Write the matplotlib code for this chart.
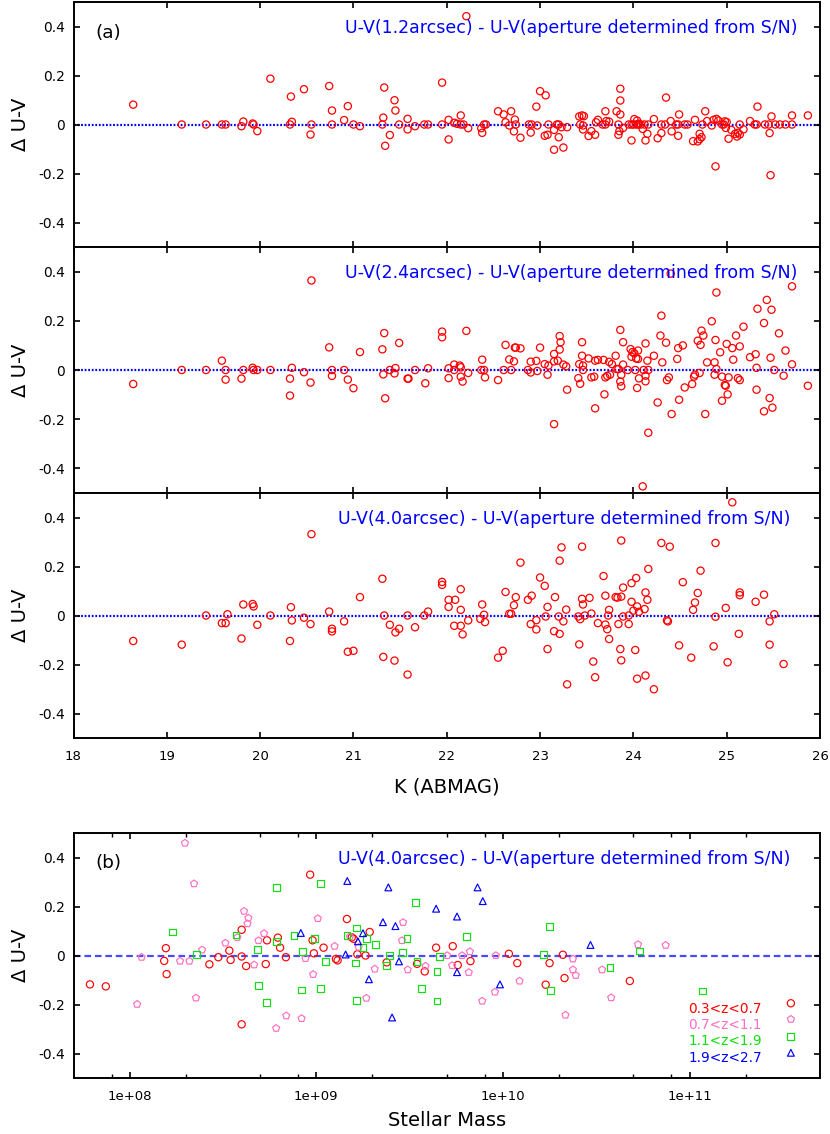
import matplotlib
matplotlib.use("Agg")
import matplotlib.pyplot as plt
import numpy as np
from matplotlib.ticker import FixedLocator, NullFormatter

plt.rcParams['font.family'] = ['DejaVu Sans']
plt.rcParams['axes.unicode_minus'] = False

# ---- panel (a), 1.2 arcsec ----
k_12 = [18.64, 19.16, 19.42, 19.59, 19.63, 19.80, 19.82, 19.92, 19.93, 19.97,
        20.11, 20.32, 20.33, 20.34, 20.47, 20.54, 20.55, 20.74, 20.77, 20.77,
        20.90, 20.94, 21.00, 21.07, 21.31, 21.32, 21.33, 21.34, 21.39, 21.44,
        21.45, 21.49, 21.58, 21.58, 21.66, 21.76, 21.80, 21.95, 21.95, 22.02,
        22.02, 22.08, 22.11, 22.15, 22.15, 22.18, 22.21, 22.23, 22.37, 22.38,
        22.40, 22.42, 22.55, 22.61, 22.63, 22.67, 22.69, 22.73, 22.72, 22.74,
        22.79, 22.88, 22.91, 22.90, 22.96, 22.97, 23.00, 23.06, 23.05, 23.08,
        23.09, 23.15, 23.15, 23.18, 23.20, 23.20, 23.23, 23.25, 23.29, 23.42,
        23.45, 23.47, 23.43, 23.46, 23.46, 23.52, 23.55, 23.59, 23.60, 23.62,
        23.67, 23.70, 23.70, 23.71, 23.74, 23.82, 23.84, 23.84, 23.85, 23.86,
        23.86, 23.86, 23.89, 23.95, 23.98, 24.00, 24.03, 24.05, 24.08, 24.12,
        24.16, 23.98, 24.01, 24.04, 24.06, 24.10, 24.13, 24.15, 24.22, 24.26,
        24.30, 24.30, 24.34, 24.35, 24.40, 24.41, 24.46, 24.48, 24.48, 24.49,
        24.55, 24.58, 24.64, 24.69, 24.71, 24.73, 24.71, 24.66, 24.74, 24.77,
        24.79, 24.84, 24.86, 24.89, 24.91, 24.88, 24.95, 24.97, 24.98, 25.00,
        24.99, 25.02, 25.05, 25.09, 25.11, 25.12, 25.14, 25.18, 25.14, 25.25,
        25.30, 25.32, 25.33, 25.41, 25.45, 25.46, 25.47, 25.48, 25.52, 25.57,
        25.63, 25.70, 25.70, 25.87]
d_12 = [0.081, 0, 0, 0, 0, -0.007, 0.012, 0.004, 0, -0.027,
        0.187, 0, 0.114, 0.011, 0.144, -0.041, 0, 0.157, 0.057, 0,
        0.018, 0.075, 0, -0.007, 0, 0.028, 0.151, -0.087, -0.043, 0.099,
        0.057, 0, 0.023, -0.020, -0.007, 0, 0, 0.171, 0, 0.019,
        -0.061, 0.007, 0.003, 0.037, 0, 0, 0.442, -0.015, -0.015, -0.034,
        0, 0, 0.054, 0.041, 0.009, -0.004, 0.054, 0.020, -0.028, 0,
        -0.054, 0, 0, -0.033, 0.073, -0.004, 0.136, 0.119, -0.046, -0.042,
        0, -0.022, -0.103, 0, 0, -0.052, -0.011, -0.094, -0.011, 0.033,
        0.037, 0.034, 0, -0.004, -0.020, -0.047, -0.027, -0.042, 0.009, 0.019,
        0, 0, 0.054, 0.014, 0.012, 0.054, 0, -0.042, -0.027, 0.041,
        0.098, 0.146, -0.014, 0, 0, 0, 0, 0, 0, 0,
        0, -0.065, 0.022, 0.016, 0.003, -0.018, -0.065, -0.038, 0.022, -0.056,
        -0.035, 0, 0, 0.110, 0.014, -0.028, 0, 0, -0.046, 0.041,
        0, 0, -0.068, -0.069, -0.060, -0.052, -0.038, 0.019, 0, 0.054,
        0.014, -0.004, 0.019, 0.023, 0.016, -0.171, 0, 0, 0.013, 0.010,
        -0.014, -0.058, -0.022, -0.038, -0.049, -0.034, -0.041, -0.020, 0, 0.014,
        0, 0, 0.073, 0, 0, -0.035, -0.207, 0.033, 0, 0,
        0, 0, 0.037, 0.037]

# ---- 2.4 arcsec ----
k_24 = [18.64, 19.16, 19.42, 19.59, 19.63, 19.63, 19.80, 19.82, 19.92, 19.93,
        19.97, 20.11, 20.32, 20.32, 20.34, 20.47, 20.54, 20.55, 20.74, 20.77,
        20.77, 20.90, 20.94, 21.00, 21.07, 21.31, 21.32, 21.33, 21.34, 21.39,
        21.44, 21.45, 21.49, 21.58, 21.59, 21.66, 21.77, 21.80, 21.95, 21.95,
        22.02, 22.02, 22.08, 22.08, 22.14, 22.15, 22.15, 22.17, 22.21, 22.23,
        22.38, 22.37, 22.40, 22.41, 22.55, 22.61, 22.63, 22.67, 22.69, 22.72,
        22.73, 22.74, 22.79, 22.87, 22.90, 22.96, 22.90, 22.97, 23.00, 23.05,
        23.08, 23.09, 23.15, 23.15, 23.15, 23.19, 23.21, 23.21, 23.22, 23.25,
        23.29, 23.28, 23.41, 23.42, 23.43, 23.45, 23.45, 23.46, 23.46, 23.52,
        23.55, 23.58, 23.59, 23.59, 23.62, 23.68, 23.69, 23.70, 23.72, 23.75,
        23.74, 23.77, 23.81, 23.82, 23.84, 23.86, 23.86, 23.87, 23.87, 23.89,
        23.89, 23.94, 23.97, 23.99, 24.01, 23.98, 24.02, 24.03, 24.05, 24.05,
        24.04, 24.06, 24.11, 24.13, 24.13, 24.13, 24.15, 24.16, 24.16, 24.22,
        24.26, 24.29, 24.30, 24.31, 24.35, 24.36, 24.38, 24.41, 24.47, 24.48,
        24.49, 24.53, 24.55, 24.63, 24.65, 24.66, 24.69, 24.72, 24.73, 24.75,
        24.71, 24.77, 24.79, 24.84, 24.87, 24.87, 24.88, 24.89, 24.89, 24.93,
        24.95, 24.95, 24.98, 24.99, 25.00, 25.01, 25.02, 25.06, 25.07, 25.10,
        25.12, 25.14, 25.14, 25.18, 25.25, 25.31, 25.32, 25.32, 25.33, 25.40,
        25.40, 25.43, 25.46, 25.47, 25.48, 25.49, 25.51, 25.56, 25.61, 25.63,
        25.70, 25.70, 25.87, 24.40, 24.10]
d_24 = [-0.057, 0, 0, 0.038, 0, -0.039, -0.035, 0, 0.009, 0,
        0, 0, -0.104, -0.035, 0.009, -0.009, -0.051, 0.364, 0.092, 0,
        -0.024, 0, -0.039, -0.074, 0.073, 0.084, -0.018, 0.150, -0.115, 0,
        -0.014, 0.008, 0.110, -0.035, -0.035, 0, -0.054, 0.007, 0.156, 0.133,
        0.007, -0.033, 0.022, 0, 0.018, 0.011, -0.027, -0.047, 0.159, -0.012,
        0.042, 0, 0, -0.030, -0.041, 0, 0.102, 0.043, 0, 0.035,
        0.091, 0.091, 0.088, 0, 0.034, 0.037, -0.010, -0.004, 0.091, 0.024,
        -0.019, 0.018, 0.065, 0.035, -0.220, 0.038, 0.083, 0.138, 0.113, 0.022,
        -0.080, 0.015, -0.033, 0.024, -0.056, 0.058, 0.113, 0, 0.018, 0.047,
        -0.030, -0.027, -0.156, 0.038, 0.041, 0.041, -0.099, -0.030, -0.024, -0.019,
        0.033, 0.024, 0.058, 0.004, 0.004, 0.163, -0.047, -0.066, -0.020, 0.113,
        0.022, 0, 0.085, 0.073, 0.068, 0.054, 0, 0.047, 0.045, 0.079,
        -0.073, -0.034, 0, -0.023, -0.046, 0.108, 0.038, 0, -0.255, 0.058,
        -0.132, 0.140, 0.221, 0.031, 0.111, -0.041, -0.030, -0.179, 0.045, 0.089,
        -0.121, 0.100, -0.071, -0.057, -0.027, -0.019, 0.119, 0.102, 0.160, 0.140,
        -0.012, -0.179, 0.031, 0.198, 0.031, -0.019, 0.122, 0.004, 0.315, 0.072,
        -0.027, -0.125, -0.061, -0.064, 0.106, -0.099, -0.030, 0.089, 0.042, 0.140,
        -0.033, -0.041, 0.096, 0.176, 0.052, 0.064, 0.009, -0.080, 0.249, 0.191,
        -0.168, 0.285, -0.114, 0.050, 0.245, -0.153, 0, 0.149, -0.023, 0.079,
        0.023, 0.340, -0.064, 0.392, -0.473]

# ---- 4.0 arcsec ----
k_40 = [18.64, 19.16, 19.42, 19.59, 19.63, 19.65, 19.80, 19.82, 19.92, 19.93,
        19.97, 20.11, 20.32, 20.33, 20.34, 20.47, 20.54, 20.55, 20.74, 20.77,
        20.77, 20.90, 20.94, 21.00, 21.07, 21.31, 21.32, 21.33, 21.39, 21.44,
        21.45, 21.49, 21.58, 21.58, 21.66, 21.76, 21.80, 21.95, 21.95, 22.02,
        22.02, 22.08, 22.09, 22.15, 22.15, 22.15, 22.17, 22.23, 22.36, 22.38,
        22.40, 22.41, 22.55, 22.60, 22.63, 22.67, 22.69, 22.72, 22.74, 22.79,
        22.87, 22.90, 22.91, 22.96, 22.96, 23.00, 23.05, 23.06, 23.08, 23.08,
        23.16, 23.15, 23.20, 23.21, 23.21, 23.23, 23.25, 23.28, 23.29, 23.41,
        23.43, 23.42, 23.45, 23.46, 23.45, 23.48, 23.53, 23.55, 23.57, 23.59,
        23.62, 23.68, 23.70, 23.70, 23.72, 23.74, 23.74, 23.73, 23.81, 23.83,
        23.84, 23.86, 23.87, 23.87, 23.87, 23.89, 23.89, 23.95, 23.95, 23.98,
        23.98, 24.00, 24.02, 24.03, 24.04, 24.04, 24.06, 24.12, 24.13, 24.13,
        24.15, 24.16, 24.22, 24.30, 24.36, 24.37, 24.39, 24.49, 24.53, 24.62,
        24.64, 24.66, 24.69, 24.72, 24.86, 24.88, 24.88, 24.99, 25.01, 25.13,
        25.14, 25.14, 25.31, 25.40, 25.46, 25.46, 25.51, 25.61, 25.06]
d_40 = [-0.104, -0.119, 0, -0.031, -0.031, 0.005, -0.094, 0.045, 0.047, 0.037,
        -0.038, 0, -0.104, 0.034, -0.020, -0.009, -0.035, 0.332, 0.016, -0.054,
        -0.065, -0.024, -0.148, -0.144, 0.075, 0.150, -0.169, 0, -0.038, -0.184,
        -0.069, -0.054, -0.241, 0, -0.048, 0, 0.016, 0.137, 0.125, 0.064,
        0.035, -0.042, 0.064, 0.107, 0.023, -0.042, -0.077, -0.020, -0.014, 0.045,
        0.003, -0.027, -0.172, -0.144, 0.096, 0.007, 0.007, 0.042, 0.075, 0.216,
        0.064, -0.035, 0.081, -0.019, -0.057, 0.155, 0.121, -0.004, -0.137, 0.035,
        0.075, -0.064, -0.004, -0.075, 0.224, 0.278, -0.024, 0.024, -0.281, -0.004,
        -0.015, -0.118, 0.068, 0.045, 0.281, 0, 0.072, 0.008, -0.188, -0.252,
        -0.031, 0.161, 0.081, -0.037, -0.056, -0.096, 0.023, 0, 0.075, 0.073,
        -0.035, -0.137, -0.183, 0.306, 0.077, 0.114, -0.004, -0.035, 0, 0.056,
        0.132, 0.020, -0.141, 0.153, -0.258, 0.037, 0.015, 0.026, 0.094, -0.245,
        0.064, 0.190, -0.301, 0.296, -0.020, -0.024, 0.281, -0.122, 0.136, -0.172,
        0.023, 0.053, 0.092, 0.183, -0.126, -0.005, 0.296, 0.031, -0.191, -0.075,
        0.094, 0.083, 0.056, 0.085, -0.024, -0.119, 0.005, -0.198, 0.462]

# ---- panel (b): log10 stellar mass and delta U-V, 4.0 arcsec, by redshift bin ----
logm_z1 = [7.787, 7.872, 8.185, 8.194, 8.198, 8.427, 8.475, 8.534, 8.541, 8.600,
           8.600, 8.624, 8.600, 8.729, 8.736, 8.794, 8.806, 8.837, 8.967, 8.980,
           8.987, 9.039, 9.105, 9.114, 9.164, 9.190, 9.200, 9.220, 9.264, 9.286,
           9.377, 9.540, 9.581, 9.642, 9.731, 9.758, 9.826, 10.032, 10.077, 10.229,
           10.250, 10.321, 10.330, 10.680]
d_z1 = [-0.118, -0.126, -0.022, 0.030, -0.076, -0.036, -0.007, 0.020, -0.018, 0.105,
        -0.004, -0.043, -0.281, -0.035, 0.062, 0.073, 0.032, -0.007, 0.330, 0.062,
        0.009, 0.032, -0.014, -0.020, 0.149, 0.074, 0.068, 0.005, 0, 0.096,
        -0.028, -0.034, -0.065, 0.032, 0.038, -0.039, -0.023, 0.007, -0.031, -0.119,
        -0.031, 0.003, -0.092, -0.104]

logm_z2 = [8.040, 8.064, 8.270, 8.296, 8.320, 8.345, 8.355, 8.388, 8.513, 8.577,
           8.613, 8.636, 8.631, 8.667, 8.690, 8.720, 8.785, 8.839, 8.921, 8.942,
           8.983, 9.008, 9.098, 9.180, 9.227, 9.268, 9.313, 9.465, 9.459, 9.490,
           9.585, 9.701, 9.728, 9.781, 9.823, 9.817, 9.889, 9.957, 9.962, 10.089,
           10.375, 10.390, 10.375, 10.335, 10.531, 10.580, 10.724, 10.872]
d_z2 = [-0.199, -0.007, -0.023, 0.459, -0.023, 0.293, -0.173, 0.023, 0.051, 0.074,
        0.181, 0.153, 0.130, -0.038, 0.061, 0.090, -0.297, -0.246, -0.257, -0.012,
        -0.077, 0.151, 0.038, 0.077, 0.034, -0.174, -0.055, 0.135, 0.061, -0.058,
        -0.043, 0, -0.041, 0, 0.016, -0.069, -0.186, -0.149, 0, -0.104,
        -0.014, -0.081, -0.058, -0.243, -0.058, -0.172, 0.045, 0.042]

logm_z3 = [8.230, 8.360, 8.570, 8.686, 8.690, 8.731, 8.788, 8.788, 8.881, 8.924,
           8.921, 8.992, 9.023, 9.023, 9.051, 9.164, 9.214, 9.209, 9.214, 9.250,
           9.268, 9.318, 9.375, 9.391, 9.461, 9.486, 9.531, 9.563, 9.540, 9.647,
           9.660, 9.647, 9.803, 10.216, 10.248, 10.254, 10.574, 10.733, 11.068]
d_z3 = [0.096, 0.005, 0.084, 0.023, -0.122, -0.191, 0.277, 0.057, 0.081, 0.016,
        -0.141, 0.070, 0.295, -0.136, -0.023, 0.081, 0.112, -0.031, -0.184, 0.034,
        0.070, 0.046, -0.041, 0, 0.011, 0.068, 0.216, -0.136, -0.024, -0.065,
        -0.005, -0.186, 0.077, 0.003, 0.120, -0.143, -0.049, 0.018, -0.145]

logm_z4 = [8.917, 9.166, 9.157, 9.223, 9.250, 9.282, 9.357, 9.386, 9.424, 9.406,
           9.443, 9.642, 9.754, 9.754, 9.864, 9.892, 9.984, 10.469]
d_z4 = [0.092, 0.304, 0.004, 0.058, 0.091, -0.097, 0.136, 0.278, 0.120, -0.253,
        -0.024, 0.191, 0.159, -0.068, 0.278, 0.222, -0.118, 0.043]

k_ticks = [18, 19, 20, 21, 22, 23, 24, 25, 26]
dy_ticks = [-0.4, -0.2, 0, 0.2, 0.4]
dy_labels = ['-0.4', '-0.2', '0', '0.2', '0.4']
mass_ticks = [1e8, 1e9, 1e10, 1e11]
mass_labels = ['1e+08', '1e+09', '1e+10', '1e+11']
z_labels = ['0.3<z<0.7', '0.7<z<1.1', '1.1<z<1.9', '1.9<z<2.7']
aper_titles = ['U-V(1.2arcsec) - U-V(aperture determined from S/N)',
               'U-V(2.4arcsec) - U-V(aperture determined from S/N)',
               'U-V(4.0arcsec) - U-V(aperture determined from S/N)']

RED = '#ff0000'
PINK = '#ff6fbf'
GREEN = '#10e010'
BLUE = '#0000ff'


def style_axes(ax):
    for sp in ax.spines.values():
        sp.set_linewidth(1.4)
    ax.tick_params(which='major', direction='in', top=True, right=True,
                   length=4.5, width=1.2, labelsize=10)
    ax.tick_params(axis='x', pad=8.5, labelsize=9.5)
    ax.tick_params(axis='y', pad=6)
    ax.set_ylim(-0.5, 0.5)
    ax.set_yticks(dy_ticks)
    ax.set_yticklabels(dy_labels)
    ax.set_ylabel('Δ U-V', fontsize=14)
    ax.yaxis.set_label_coords(-0.058, 0.5)


fig = plt.figure(figsize=(8.3, 11.34), dpi=100)
L, W = 73.5 / 830, 746.5 / 830
panel_px = [(2, 247), (247, 493), (493, 738)]
series = [(k_12, d_12), (k_24, d_24), (k_40, d_40)]
title_x = [0.970, 0.970, 0.960]

for i, ((top, bot), (kk, dd)) in enumerate(zip(panel_px, series)):
    ax = fig.add_axes([L, 1 - bot / 1134, W, (bot - top) / 1134])
    ax.axhline(0, color=BLUE, lw=1.6, ls=(0, (0.8, 0.8)), zorder=1)
    ax.scatter(kk, dd, s=27, facecolors='none', edgecolors=RED,
               linewidths=0.9, zorder=2, clip_on=True)
    ax.set_xlim(18, 26)
    ax.set_xticks(k_ticks)
    style_axes(ax)
    ax.text(title_x[i], 0.895, aper_titles[i], transform=ax.transAxes,
            ha='right', va='center', fontsize=12.5, color=BLUE)
    if i == 0:
        ax.text(0.029, 0.872, '(a)', transform=ax.transAxes, ha='left',
                va='center', fontsize=13.2)
    if i < 2:
        ax.set_xticklabels([])
    else:
        ax.set_xlabel('K (ABMAG)', fontsize=14)
        ax.xaxis.set_label_coords(0.5, -0.163)

# ---- panel (b) ----
axb = fig.add_axes([L, 1 - 1078 / 1134, W, 245 / 1134])
axb.set_xscale('log')
axb.axhline(0, color='#4a4aff', lw=1.6, ls=(0, (3, 1.7)), zorder=1)
groups = [(logm_z1, d_z1, RED, 'o', 27),
          (logm_z2, d_z2, PINK, 'p', 28),
          (logm_z3, d_z3, GREEN, 's', 24),
          (logm_z4, d_z4, BLUE, '^', 24)]
for lm, dd, c, mk, sz in groups:
    axb.scatter(10 ** np.array(lm), dd, s=sz, marker=mk, facecolors='none',
                edgecolors=c, linewidths=0.85, zorder=2)
axb.set_xlim(5e7, 5e11)
axb.xaxis.set_major_locator(FixedLocator(mass_ticks))
axb.set_xticklabels(mass_labels)
minor = [m * 10.0 ** e for e in range(7, 12) for m in (2, 5, 8)]
minor = [v for v in minor if 5e7 < v < 5e11]
axb.xaxis.set_minor_locator(FixedLocator(minor))
axb.xaxis.set_minor_formatter(NullFormatter())
axb.tick_params(which='minor', direction='in', top=True, length=3, width=1.0)
style_axes(axb)
axb.set_xlabel('Stellar Mass', fontsize=14)
axb.xaxis.set_label_coords(0.5, -0.133)
axb.text(0.960, 0.895, aper_titles[2], transform=axb.transAxes,
         ha='right', va='center', fontsize=12.5, color=BLUE)
axb.text(0.029, 0.878, '(b)', transform=axb.transAxes, ha='left',
         va='center', fontsize=13.2)

# key, drawn at the lower right like the original
key_y = [0.305, 0.240, 0.171, 0.103]
for (lm, dd, c, mk, sz), lab, yy in zip(groups, z_labels, key_y):
    axb.scatter([0.961], [yy], s=sz, marker=mk, facecolors='none', edgecolors=c,
                linewidths=0.85, transform=axb.transAxes, clip_on=False)
    axb.text(0.922, yy - 0.022, lab, transform=axb.transAxes, ha='right',
             va='center', fontsize=9.8, color=c)

fig.savefig('out.png', dpi=100)
